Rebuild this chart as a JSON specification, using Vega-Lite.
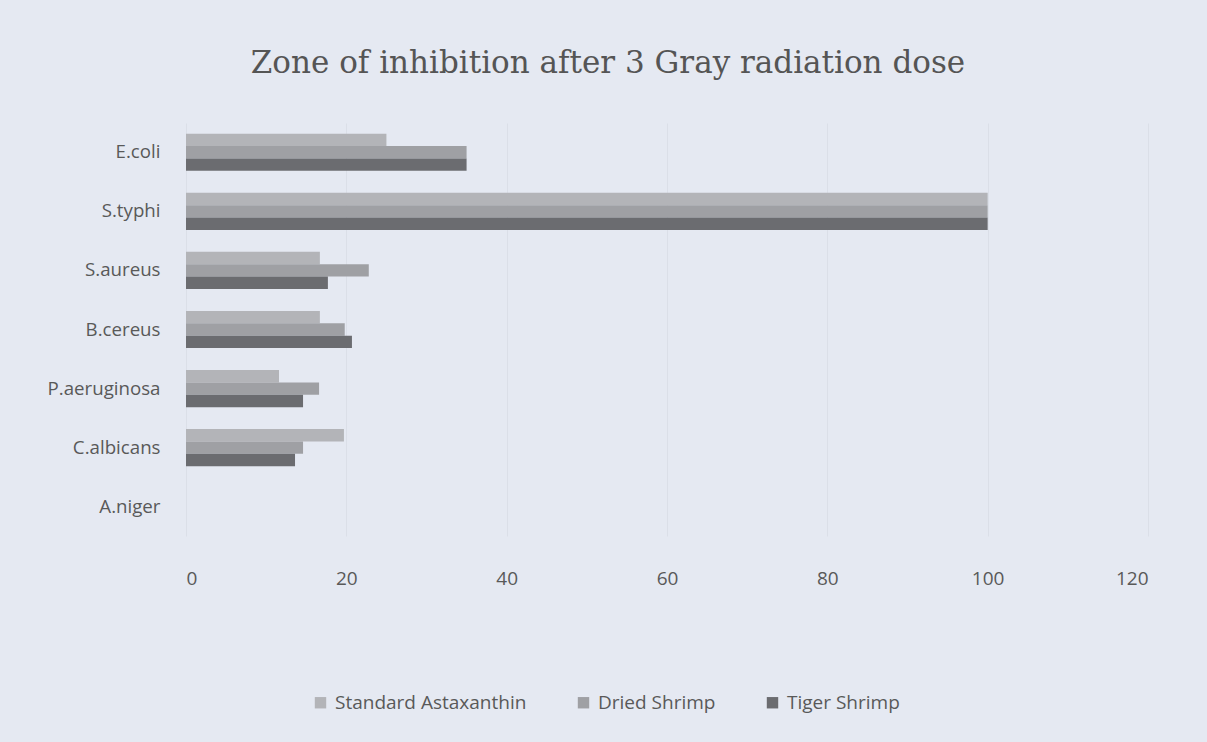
{
  "$schema": "https://vega.github.io/schema/vega-lite/v6.json",
  "width": 962,
  "height": 413,
  "autosize": {"type": "none"},
  "padding": {"left": 186, "top": 123, "right": 59, "bottom": 206},
  "background": "#e5e9f2",
  "config": {"view": {"stroke": null}, "font": "Open Sans"},
  "title": {
    "text": "Zone of inhibition after 3 Gray radiation dose",
    "font": "DejaVu Serif",
    "fontSize": 31,
    "fontWeight": "normal",
    "color": "#555555",
    "anchor": "middle",
    "dx": -59,
    "offset": 43
  },
  "data": {
    "values": [
      {"organism": "E.coli", "series": "Standard Astaxanthin", "value": 25},
      {"organism": "E.coli", "series": "Dried Shrimp", "value": 35},
      {"organism": "E.coli", "series": "Tiger Shrimp", "value": 35},
      {"organism": "S.typhi", "series": "Standard Astaxanthin", "value": 100},
      {"organism": "S.typhi", "series": "Dried Shrimp", "value": 100},
      {"organism": "S.typhi", "series": "Tiger Shrimp", "value": 100},
      {"organism": "S.aureus", "series": "Standard Astaxanthin", "value": 16.7},
      {"organism": "S.aureus", "series": "Dried Shrimp", "value": 22.8},
      {"organism": "S.aureus", "series": "Tiger Shrimp", "value": 17.7},
      {"organism": "B.cereus", "series": "Standard Astaxanthin", "value": 16.7},
      {"organism": "B.cereus", "series": "Dried Shrimp", "value": 19.8},
      {"organism": "B.cereus", "series": "Tiger Shrimp", "value": 20.7},
      {"organism": "P.aeruginosa", "series": "Standard Astaxanthin", "value": 11.6},
      {"organism": "P.aeruginosa", "series": "Dried Shrimp", "value": 16.6},
      {"organism": "P.aeruginosa", "series": "Tiger Shrimp", "value": 14.6},
      {"organism": "C.albicans", "series": "Standard Astaxanthin", "value": 19.7},
      {"organism": "C.albicans", "series": "Dried Shrimp", "value": 14.6},
      {"organism": "C.albicans", "series": "Tiger Shrimp", "value": 13.6},
      {"organism": "A.niger", "series": "Standard Astaxanthin", "value": 0},
      {"organism": "A.niger", "series": "Dried Shrimp", "value": 0},
      {"organism": "A.niger", "series": "Tiger Shrimp", "value": 0}
    ]
  },
  "mark": {"type": "bar"},
  "encoding": {
    "y": {
      "field": "organism",
      "type": "nominal",
      "sort": ["E.coli", "S.typhi", "S.aureus", "B.cereus", "P.aeruginosa", "C.albicans", "A.niger"],
      "scale": {"paddingInner": 0.37, "paddingOuter": 0.18},
      "axis": {
        "title": null,
        "domain": false,
        "ticks": false,
        "labelFontSize": 18.7,
        "labelColor": "#595959",
        "labelPadding": 26
      }
    },
    "yOffset": {
      "field": "series",
      "type": "nominal",
      "sort": ["Standard Astaxanthin", "Dried Shrimp", "Tiger Shrimp"]
    },
    "x": {
      "field": "value",
      "type": "quantitative",
      "scale": {"domain": [0, 120], "nice": false},
      "axis": {
        "title": null,
        "values": [0, 20, 40, 60, 80, 100, 120],
        "domain": false,
        "ticks": false,
        "grid": true,
        "gridColor": "#dbdfe8",
        "labelFontSize": 19,
        "labelColor": "#595959",
        "labelPadding": 33
      }
    },
    "color": {
      "field": "series",
      "type": "nominal",
      "sort": ["Standard Astaxanthin", "Dried Shrimp", "Tiger Shrimp"],
      "scale": {"range": ["#b3b4b8", "#9fa0a4", "#6b6c70"]},
      "legend": {
        "title": null,
        "orient": "none",
        "direction": "horizontal",
        "legendX": 125,
        "legendY": 570,
        "symbolType": "square",
        "symbolSize": 130,
        "labelFontSize": 19,
        "labelColor": "#595959",
        "labelLimit": 400,
        "labelOffset": 5,
        "columnPadding": 47,
        "symbolStrokeWidth": 0
      }
    }
  }
}
